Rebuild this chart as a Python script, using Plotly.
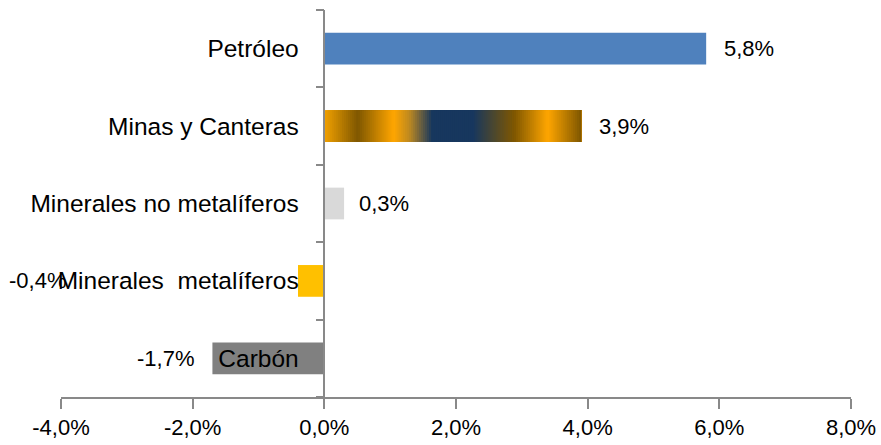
import plotly.graph_objects as go

categories = ["Petróleo", "Minas y Canteras", "Minerales no metalíferos", "Minerales  metalíferos", "Carbón"]
values = [5.8, 3.9, 0.3, -0.4, -1.7]
labels = ["5,8%", "3,9%", "0,3%", "-0,4%", "-1,7%"]
bar_colors = ["#4F81BD", "#F2A100", "#D9D9D9", "#FFC000", "#808080"]
x_tick_vals = [-4, -2, 0, 2, 4, 6, 8]
x_tick_text = ["-4,0%", "-2,0%", "0,0%", "2,0%", "4,0%", "6,0%", "8,0%"]

# style: label offsets (px) and gradient stops for "Minas y Canteras"
label_shift = [16, 16, 13, -230, -16]
grad_stops = [
    (0.00, "#F2A100"), (0.13, "#7F5700"), (0.27, "#FFA600"), (0.33, "#C08A20"),
    (0.42, "#17375E"), (0.58, "#17375E"), (0.74, "#7F5700"), (0.87, "#FFA600"),
    (1.00, "#7F5700"),
]


def hex2rgb(h):
    h = h.lstrip("#")
    return tuple(int(h[i:i + 2], 16) for i in (0, 2, 4))


def grad_color(t):
    for (t0, c0), (t1, c1) in zip(grad_stops[:-1], grad_stops[1:]):
        if t0 <= t <= t1:
            f = 0 if t1 == t0 else (t - t0) / (t1 - t0)
            a, b = hex2rgb(c0), hex2rgb(c1)
            r = [round(a[k] + (b[k] - a[k]) * f) for k in range(3)]
            return "rgb(%d,%d,%d)" % tuple(r)
    return grad_stops[-1][1]


BAR_W = 0.41
fig = go.Figure()
fig.add_trace(go.Bar(
    y=categories, x=values, orientation="h", width=BAR_W,
    marker=dict(color=bar_colors, line=dict(width=0)),
    hoverinfo="skip", showlegend=False,
))

# gradient overlay for Minas y Canteras
gi = categories.index("Minas y Canteras")
gv = values[gi]
N = 130
seg_base = [gv * i / N for i in range(N)]
seg_len = [gv - b for b in seg_base]
seg_col = [grad_color((i + 0.5) / N) for i in range(N)]
fig.add_trace(go.Bar(
    y=[categories[gi]] * N, x=seg_len, base=seg_base, orientation="h", width=BAR_W,
    marker=dict(color=seg_col, line=dict(width=0)),
    hoverinfo="skip", showlegend=False,
))

for cat, v, lab, sh in zip(categories, values, labels, label_shift):
    fig.add_annotation(
        x=v, y=cat, text=lab, showarrow=False,
        xanchor="left" if v >= 0 else "right", xshift=sh,
        font=dict(family="Liberation Sans", size=22, color="#000000"),
    )

fig.update_layout(
    width=881, height=445,
    margin=dict(l=61, r=30, t=10, b=48, autoexpand=False),
    plot_bgcolor="white", paper_bgcolor="white",
    barmode="overlay",
    font=dict(family="Liberation Sans", size=22, color="#000000"),
    xaxis=dict(
        range=[-4, 8], tickvals=x_tick_vals, ticktext=x_tick_text,
        showgrid=False, zeroline=False, showline=True, linecolor="#898989", linewidth=1.5,
        ticks="outside", ticklen=10, tickcolor="#898989", tickwidth=1.5,
        tickfont=dict(family="Liberation Sans", size=22, color="#000000"),
        automargin=False,
    ),
    yaxis=dict(
        categoryorder="array", categoryarray=categories[::-1],
        range=[-0.5, 4.5],
        anchor="free", position=4 / 12,
        showgrid=False, zeroline=False, showline=True, linecolor="#898989", linewidth=1.5,
        ticks="outside", ticklen=8, tickcolor="#898989", tickwidth=1.5,
        tickson="boundaries", ticklabelstandoff=20,
        tickfont=dict(family="Liberation Sans", size=24.5, color="#000000"),
        automargin=False,
    ),
)

fig.write_html(
    "out.html",
    config={"displayModeBar": False},
    post_script="document.body.style.margin='0';document.body.style.overflow='hidden';",
)
